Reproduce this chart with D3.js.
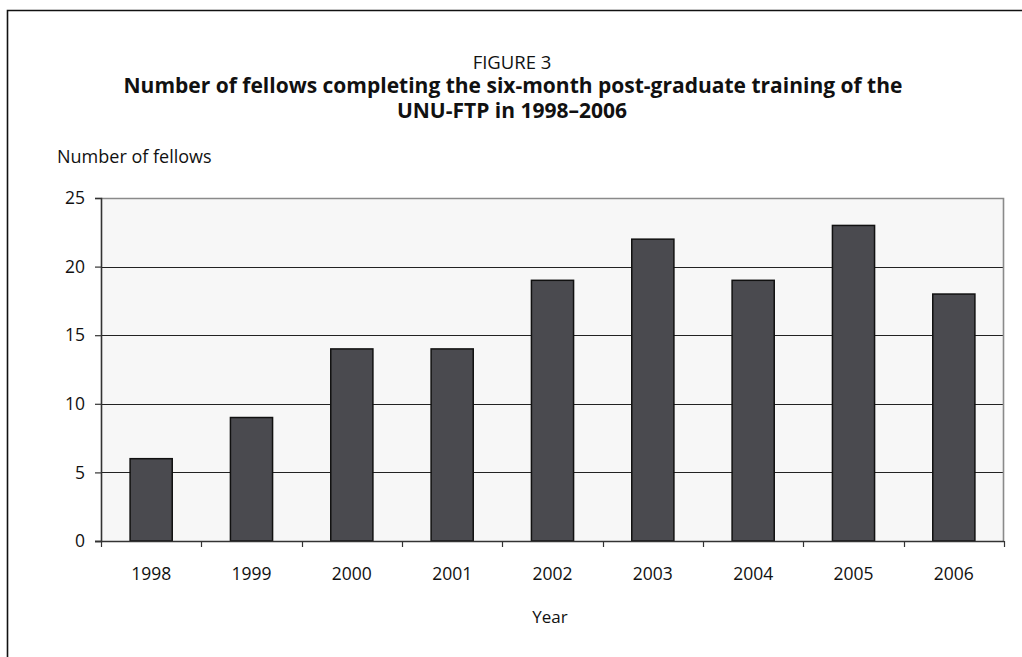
<!DOCTYPE html>
<html>
<head>
<meta charset="utf-8">
<script src="https://cdn.jsdelivr.net/npm/d3@7"></script>
<style>
  html, body { margin: 0; padding: 0; background: #fff; }
  svg { display: block; font-family: "Open Sans", "Noto Sans", sans-serif; }
</style>
</head>
<body>
<svg id="chart" width="1022" height="657"></svg>
<script>
// Fellows completing the UNU-FTP six-month training, by year
const years = ["1998", "1999", "2000", "2001", "2002", "2003", "2004", "2005", "2006"];
const fellows = [6, 9, 14, 14, 19, 22, 19, 23, 18];
const yTicks = [0, 5, 10, 15, 20, 25];

const svg = d3.select("#chart");
const W = 1022, H = 657;
const plot = { left: 101, top: 198, right: 1004, bottom: 541 };

// Page frame (open at right and bottom edges)
svg.append("path")
  .attr("d", `M7.5,${H + 2} V10.5 H${W + 2}`)
  .attr("fill", "none").attr("stroke", "#111").attr("stroke-width", 1.6);

// Titles
svg.append("text").attr("x", 512).attr("y", 69).attr("text-anchor", "middle")
  .attr("font-size", 18.5).attr("fill", "#111").text("FIGURE 3");
svg.append("text").attr("x", 513).attr("y", 93).attr("text-anchor", "middle")
  .attr("font-size", 21).attr("font-weight", "bold").attr("fill", "#111")
  .text("Number of fellows completing the six-month post-graduate training of the");
svg.append("text").attr("x", 512).attr("y", 118).attr("text-anchor", "middle")
  .attr("font-size", 21).attr("font-weight", "bold").attr("fill", "#111")
  .text("UNU-FTP in 1998–2006");

svg.append("text").attr("x", 57).attr("y", 163)
  .attr("font-size", 18).attr("fill", "#111").text("Number of fellows");

// Scales
const x = d3.scaleBand().domain(years).range([plot.left, plot.right]).padding(0);
const y = d3.scaleLinear().domain([0, 25]).range([plot.bottom, plot.top]);

// Plot background
svg.append("rect")
  .attr("x", plot.left).attr("y", plot.top)
  .attr("width", plot.right - plot.left).attr("height", plot.bottom - plot.top)
  .attr("fill", "#f7f7f7");

// Gridlines
svg.append("g").selectAll("line").data(yTicks.filter(d => d > 0 && d < 25)).join("line")
  .attr("x1", plot.left).attr("x2", plot.right)
  .attr("y1", d => Math.round(y(d)) + 0.5).attr("y2", d => Math.round(y(d)) + 0.5)
  .attr("stroke", "#222").attr("stroke-width", 1);

// Plot area top and right edges
svg.append("path")
  .attr("d", `M${plot.left},${plot.top + 0.5} H${plot.right - 0.5} V${plot.bottom}`)
  .attr("fill", "none").attr("stroke", "#8a8a8a").attr("stroke-width", 1.6);

// Bars
const barW = x.bandwidth() * 0.42;
svg.append("g").selectAll("rect").data(years).join("rect")
  .attr("x", (d) => x(d) + (x.bandwidth() - barW) / 2)
  .attr("y", (d, i) => y(fellows[i]))
  .attr("width", barW)
  .attr("height", (d, i) => y(0) - y(fellows[i]))
  .attr("fill", "#4a4a4f")
  .attr("stroke", "#111").attr("stroke-width", 1.5);

// Y axis
const yAxis = svg.append("g").attr("transform", `translate(${plot.left},0)`)
  .call(d3.axisLeft(y).tickValues(yTicks).tickSize(6).tickPadding(10));
yAxis.select(".domain").attr("stroke", "#333").attr("stroke-width", 1.6);
yAxis.selectAll(".tick line").attr("stroke", "#333").attr("stroke-width", 1.2);
yAxis.selectAll(".tick text").attr("font-size", 17.5).attr("fill", "#111")
  .attr("font-family", "Open Sans, Noto Sans, sans-serif");

// X axis: ticks at category boundaries
const xAxisG = svg.append("g").attr("transform", `translate(0,${plot.bottom})`);
xAxisG.append("line").attr("x1", plot.left - 6).attr("x2", plot.right)
  .attr("y1", 0.5).attr("y2", 0.5).attr("stroke", "#333").attr("stroke-width", 1.6);
const bounds = years.map(d => x(d)).concat([x(years[years.length - 1]) + x.bandwidth()]);
xAxisG.selectAll("line.tk").data(bounds).join("line").attr("class", "tk")
  .attr("x1", d => Math.round(d) + 0.5).attr("x2", d => Math.round(d) + 0.5)
  .attr("y1", 0).attr("y2", 6).attr("stroke", "#333").attr("stroke-width", 1.2);
xAxisG.selectAll("text").data(years).join("text")
  .attr("x", d => x(d) + x.bandwidth() / 2).attr("y", 39)
  .attr("text-anchor", "middle").attr("font-size", 17.5).attr("fill", "#111")
  .text(d => d);

svg.append("text").attr("x", 550).attr("y", 623).attr("text-anchor", "middle")
  .attr("font-size", 17).attr("fill", "#111").text("Year");
</script>
</body>
</html>
